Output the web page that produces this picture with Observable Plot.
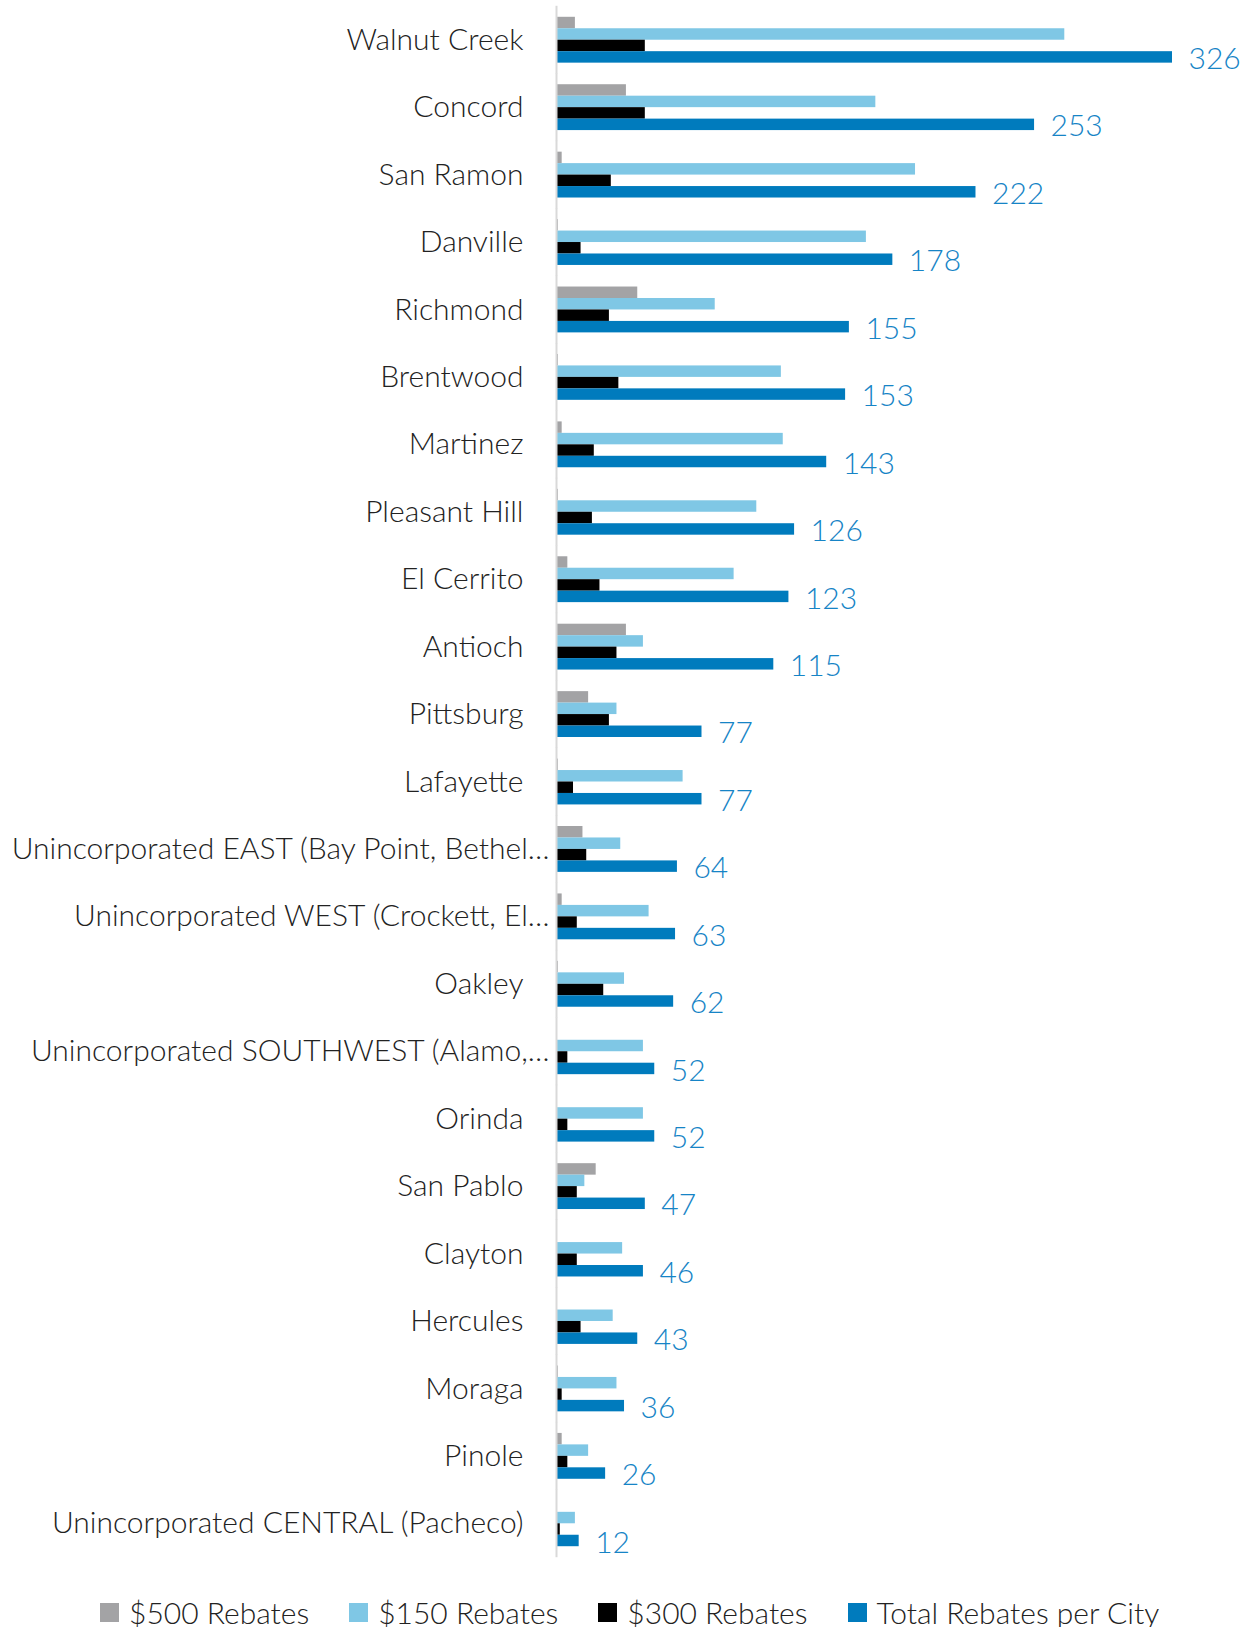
<!DOCTYPE html>
<html>
<head>
<meta charset="utf-8">
<script src="https://cdn.jsdelivr.net/npm/d3@7"></script>
<script src="https://cdn.jsdelivr.net/npm/@observablehq/plot@0.6"></script>
<style>
  body { margin: 0; background: #fff; font-family: Lato, sans-serif; font-weight: 300; }
  #legend { display: flex; align-items: center; margin-top: 7px; padding-left: 100px; font-size: 30px; line-height: 30px; color: #222; }
  #legend .item { display: flex; align-items: center; margin-right: 40px; }
  #legend .sw { width: 19px; height: 19px; margin-right: 10px; }
</style>
</head>
<body>
<div id="chart"></div>
<div id="legend"></div>
<script>
const cities = [
  "Walnut Creek", "Concord", "San Ramon", "Danville", "Richmond", "Brentwood",
  "Martinez", "Pleasant Hill", "El Cerrito", "Antioch", "Pittsburg", "Lafayette",
  "Unincorporated EAST (Bay Point, Bethel…", "Unincorporated WEST (Crockett, El…",
  "Oakley", "Unincorporated SOUTHWEST (Alamo,…", "Orinda", "San Pablo", "Clayton",
  "Hercules", "Moraga", "Pinole", "Unincorporated CENTRAL (Pacheco)"
];
const series = ["$500 Rebates", "$150 Rebates", "$300 Rebates", "Total Rebates per City"];
const colors = ["#a3a3a5", "#7fc7e5", "#000000", "#007bbd"];
const rebates500 = [10, 37, 3, 1, 43, 1, 3, 1, 6, 37, 17, 1, 14, 3, 1, 0, 0, 21, 0, 0, 1, 3, 0];
const rebates150 = [269, 169, 190, 164, 84, 119, 120, 106, 94, 46, 32, 67, 34, 49, 36, 46, 46, 15, 35, 30, 32, 17, 10];
const rebates300 = [47, 47, 29, 13, 28, 33, 20, 19, 23, 32, 28, 9, 16, 11, 25, 6, 6, 11, 11, 13, 3, 6, 2];
const totals = [326, 253, 222, 178, 155, 153, 143, 126, 123, 115, 77, 77, 64, 63, 62, 52, 52, 47, 46, 43, 36, 26, 12];

const seriesValues = [rebates500, rebates150, rebates300, totals];
const data = [];
cities.forEach((c, i) => {
  series.forEach((s, j) => data.push({city: c, series: s, value: seriesValues[j][i]}));
});
const totalRows = cities.map((c, i) => ({city: c, total: totals[i]}));
const truncated = cities.filter(c => c.endsWith("…"));
const normal = cities.filter(c => !c.endsWith("…"));

const chart = Plot.plot({
  width: 1252,
  height: 1590,
  marginLeft: 556,
  marginRight: 80,
  marginTop: 6,
  marginBottom: 33,
  style: {fontFamily: "Lato, sans-serif", fontWeight: 300, background: "#fff"},
  x: {domain: [0, 326], axis: null},
  y: {domain: series, padding: 0, round: false, axis: null},
  fy: {domain: cities, paddingInner: 0.32, paddingOuter: 0.16, round: false, axis: null},
  color: {domain: series, range: colors},
  marks: [
    Plot.barX(data, {x: "value", y: "series", fy: "city", fill: "series"}),
    Plot.ruleX([0], {stroke: "#d9d9d9", strokeWidth: 2, insetTop: -11, insetBottom: -11}),
    Plot.text(normal, {fy: d => d, text: d => d, frameAnchor: "left", textAnchor: "end", dx: -33, fontSize: 30, fill: "#222"}),
    Plot.text(truncated, {fy: d => d, text: d => d, frameAnchor: "left", textAnchor: "end", dx: -7, fontSize: 30, fill: "#222"}),
    Plot.text(totalRows, {x: "total", y: () => series[3], fy: "city", text: d => String(d.total), textAnchor: "start", dx: 16, dy: 2, fontSize: 30, fill: "#1684c6"})
  ]
});
document.getElementById("chart").appendChild(chart);

const legend = document.getElementById("legend");
series.forEach((s, j) => {
  const item = document.createElement("div");
  item.className = "item";
  const sw = document.createElement("div");
  sw.className = "sw";
  sw.style.background = colors[j];
  const label = document.createElement("span");
  label.textContent = s;
  item.appendChild(sw);
  item.appendChild(label);
  legend.appendChild(item);
});
</script>
</body>
</html>
